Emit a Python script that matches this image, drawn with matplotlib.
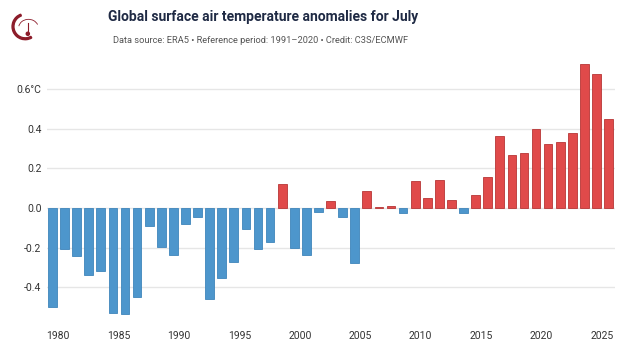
import numpy as np
import matplotlib.pyplot as plt
from matplotlib.patches import Arc, Wedge

# July anomalies (°C) vs 1991-2020, ERA5
years = list(range(1979, 2026))
anomaly = [-0.497, -0.208, -0.240, -0.338, -0.316, -0.531, -0.534, -0.447,
           -0.089, -0.195, -0.237, -0.079, -0.047, -0.460, -0.351, -0.274,
           -0.104, -0.207, -0.173, 0.121, -0.203, -0.237, -0.020, 0.035,
           -0.047, -0.275, 0.086, 0.005, 0.010, -0.025, 0.138, 0.052,
           0.143, 0.040, -0.025, 0.067, 0.154, 0.361, 0.265, 0.279,
           0.396, 0.324, 0.332, 0.378, 0.724, 0.677, 0.448]
yticks = [-0.4, -0.2, 0.0, 0.2, 0.4, 0.6]
ytick_labels = ['-0.4', '-0.2', '0.0', '0.2', '0.4', '0.6°C']
xticks = [1980, 1985, 1990, 1995, 2000, 2005, 2010, 2015, 2020, 2025]

plt.rcParams['font.family'] = ['Roboto', 'DejaVu Sans']

fig = plt.figure(figsize=(6.3, 3.54), dpi=100)
fig.patch.set_facecolor('white')
ax = fig.add_axes([0.0746, 0.0873, 0.9016, 0.740])

x = np.array(years) + 0.54
vals = np.array(anomaly)
colors = np.where(vals >= 0, '#e04a4a', '#4d96cc')
edges = np.where(vals >= 0, '#b83636', '#3f85bb')
ax.bar(x, vals, width=0.72, color=colors, edgecolor=edges, linewidth=0.6, zorder=3)

ax.set_xlim(1979.09, 2026.07)
ax.set_ylim(-0.58, 0.74)
ax.set_yticks(yticks)
ax.set_yticklabels(ytick_labels)
ax.set_xticks(xticks)
ax.tick_params(axis='both', length=0, labelsize=7.5, colors='#333333')
ax.tick_params(axis='x', pad=6)
ax.tick_params(axis='y', pad=4)
ax.grid(axis='y', color='#e6e6e6', linewidth=1, zorder=0)
for s in ax.spines.values():
    s.set_visible(False)

fig.text(0.417, 0.952, 'Global surface air temperature anomalies for July',
         ha='center', va='center', fontsize=10, fontweight='bold', color='#1f2a44')
fig.text(0.414, 0.885, 'Data source: ERA5 • Reference period: 1991–2020 • Credit: C3S/ECMWF',
         ha='center', va='center', fontsize=6.7, color='#555555')

# small logo top-left
lax = fig.add_axes([0.015, 0.88, 0.05, 0.09])
lax.set_xlim(-1.2, 1.2)
lax.set_ylim(-1.2, 1.2)
lax.set_aspect('equal')
lax.axis('off')
lax.add_patch(Wedge((0, 0), 1.0, 110, 300, width=0.14, color='#8c1c2a'))
lax.add_patch(Arc((0.25, -0.1), 1.5, 1.3, theta1=20, theta2=170, color='#8c1c2a', lw=0.6))
lax.plot([0.2, 0.2], [-0.5, 0.3], color='#8c1c2a', lw=0.8)
lax.add_patch(plt.Circle((0.2, -0.55), 0.12, color='#8c1c2a'))

fig.savefig('out.png', dpi=100)
